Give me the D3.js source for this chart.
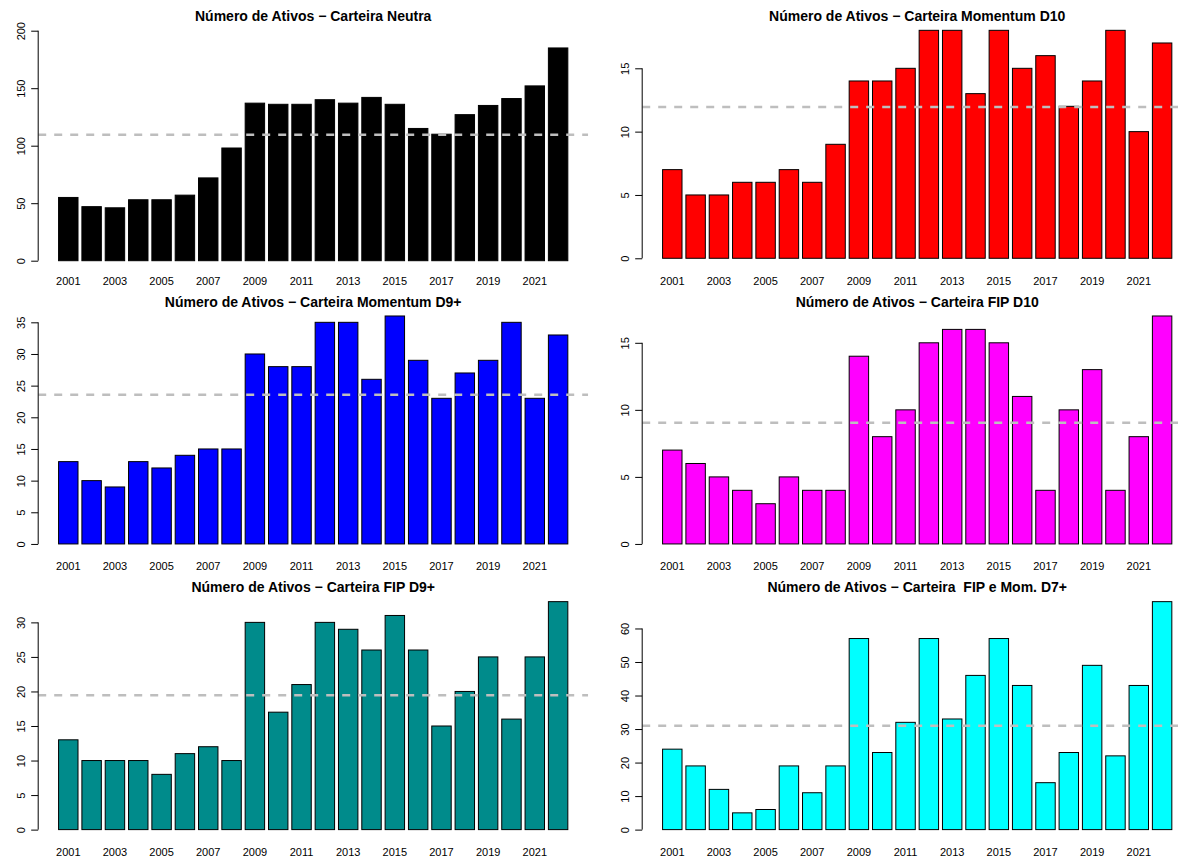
<!DOCTYPE html>
<html>
<head>
<meta charset="utf-8">
<script src="https://cdn.jsdelivr.net/npm/d3@7/dist/d3.min.js"></script>
<style>
  html, body { margin: 0; padding: 0; background: #fff; }
  svg { display: block; }
  text { font-family: "Liberation Sans", Arial, Helvetica, sans-serif; white-space: pre; }
</style>
</head>
<body>
<div id="chart"></div>
<script>
// ---------------- data ----------------
const years = ["2001","2002","2003","2004","2005","2006","2007","2008","2009","2010","2011",
               "2012","2013","2014","2015","2016","2017","2018","2019","2020","2021","2022"];
const xTickLabels = ["2001","2003","2005","2007","2009","2011","2013","2015","2017","2019","2021"];

const carteiraNeutra   = [55,47,46,53,53,57,72,98,137,136,136,140,137,142,136,115,110,127,135,141,152,185];
const momentumD10      = [7,5,5,6,6,7,6,9,14,14,15,18,18,13,18,15,16,12,14,18,10,17];
const momentumD9plus   = [13,10,9,13,12,14,15,15,30,28,28,35,35,26,36,29,23,27,29,35,23,33];
const fipD10           = [7,6,5,4,3,5,4,4,14,8,10,15,16,16,15,11,4,10,13,4,8,17];
const fipD9plus        = [13,10,10,10,8,11,12,10,30,17,21,30,29,26,31,26,15,20,25,16,25,33];
const fipMomD7plus     = [24,19,12,5,6,19,11,19,57,23,32,57,33,46,57,43,14,23,49,22,43,68];

const titles = [
  "Número de Ativos − Carteira Neutra",
  "Número de Ativos − Carteira Momentum D10",
  "Número de Ativos − Carteira Momentum D9+",
  "Número de Ativos − Carteira FIP D10",
  "Número de Ativos − Carteira FIP D9+",
  "Número de Ativos − Carteira  FIP e Mom. D7+"
];
const colors = ["#000000", "#FF0000", "#0000FF", "#FF00FF", "#008B8B", "#00FFFF"];
const yLimits = [[0,200],[0,18],[0,36],[0,17],[0,33],[0,68]];
const yTicks = [
  [0,50,100,150,200],
  [0,5,10,15],
  [0,5,10,15,20,25,30,35],
  [0,5,10,15],
  [0,5,10,15,20,25,30],
  [0,10,20,30,40,50,60]
];
const seriesList = [carteiraNeutra, momentumD10, momentumD9plus, fipD10, fipD9plus, fipMomD7plus];

// ---------------- layout ----------------
const W = 1178, H = 857;
const colW = 604, rowH = H / 3;
const plotL = 38.2, plotR = 588.2;
const plotT = 21.2, plotB = 267.4;
const regionAdjust = [[0.3, 2.5],[0,0],[0,0],[0,0],[0,0],[0,0]]; // [top, bottom] shift

const svg = d3.select("#chart").append("svg")
  .attr("width", W).attr("height", H);
svg.append("rect").attr("width", W).attr("height", H).attr("fill", "#fff");

const fontAxis = 11, fontTitle = 14;

seriesList.forEach((vals, i) => {
  const col = i % 2, row = Math.floor(i / 2);
  const gx = col * colW, gy = row * rowH;
  const top = gy + plotT + regionAdjust[i][0];
  const bottom = gy + plotB + regionAdjust[i][1];
  const left = gx + plotL, right = gx + plotR;

  // R barplot: width 1, space 0.2, xaxs "r" (4% extension)
  const n = years.length;
  const span = n * 1.2 - 0.2;
  const x = d3.scaleBand().domain(years).range([left, right])
    .paddingInner(0.2 / 1.2)
    .paddingOuter(0.04 * span / 1.2)
    .align(0.5);

  const [y0, y1] = yLimits[i];
  const ext = 0.04 * (y1 - y0);
  const y = d3.scaleLinear().domain([y0 - ext, y1 + ext]).range([bottom, top]);

  const g = svg.append("g");
  const clipId = "clip" + i;
  g.append("clipPath").attr("id", clipId)
    .append("rect").attr("x", left).attr("y", top)
    .attr("width", right - left).attr("height", bottom - top);

  const plot = g.append("g").attr("clip-path", `url(#${clipId})`);

  // bars
  plot.selectAll("rect.bar").data(vals).join("rect")
    .attr("class", "bar")
    .attr("x", (d, j) => x(years[j]))
    .attr("width", x.bandwidth())
    .attr("y", d => y(d))
    .attr("height", d => y(0) - y(d))
    .attr("fill", colors[i])
    .attr("stroke", "#000")
    .attr("stroke-width", 1);

  // mean line
  const m = d3.mean(vals);
  plot.append("line")
    .attr("x1", left).attr("x2", right)
    .attr("y1", y(m)).attr("y2", y(m))
    .attr("stroke", "#BEBEBE").attr("stroke-width", 2.5)
    .attr("stroke-dasharray", "8,8");

  // y axis
  const ya = g.append("g").attr("transform", `translate(${left},0)`)
    .call(d3.axisLeft(y).tickValues(yTicks[i]).tickSize(7).tickFormat(d3.format("d")));
  ya.select(".domain").remove();
  ya.selectAll(".tick line").attr("stroke", "#000");
  ya.append("line")
    .attr("x1", 0).attr("x2", 0)
    .attr("y1", y(yTicks[i][0])).attr("y2", y(yTicks[i][yTicks[i].length - 1]))
    .attr("stroke", "#000");
  ya.selectAll(".tick text")
    .attr("x", null).attr("dy", "0.35em")
    .attr("transform", "translate(-17,0) rotate(-90)")
    .attr("text-anchor", "middle")
    .attr("fill", "#000")
    .style("font-size", fontAxis + "px")
    .style("font-family", "'Liberation Sans', Arial, sans-serif");

  // x labels
  g.append("g").selectAll("text").data(xTickLabels).join("text")
    .attr("x", d => x(d) + x.bandwidth() / 2)
    .attr("y", gy + 284.7)
    .attr("text-anchor", "middle")
    .attr("font-size", fontAxis)
    .attr("fill", "#000")
    .text(d => d);

  // title
  g.append("text")
    .attr("x", (left + right) / 2)
    .attr("y", gy + 21)
    .attr("text-anchor", "middle")
    .attr("font-size", fontTitle)
    .attr("font-weight", "bold")
    .attr("fill", "#000")
    .attr("xml:space", "preserve")
    .style("white-space", "pre")
    .text(titles[i]);
});
</script>
</body>
</html>
